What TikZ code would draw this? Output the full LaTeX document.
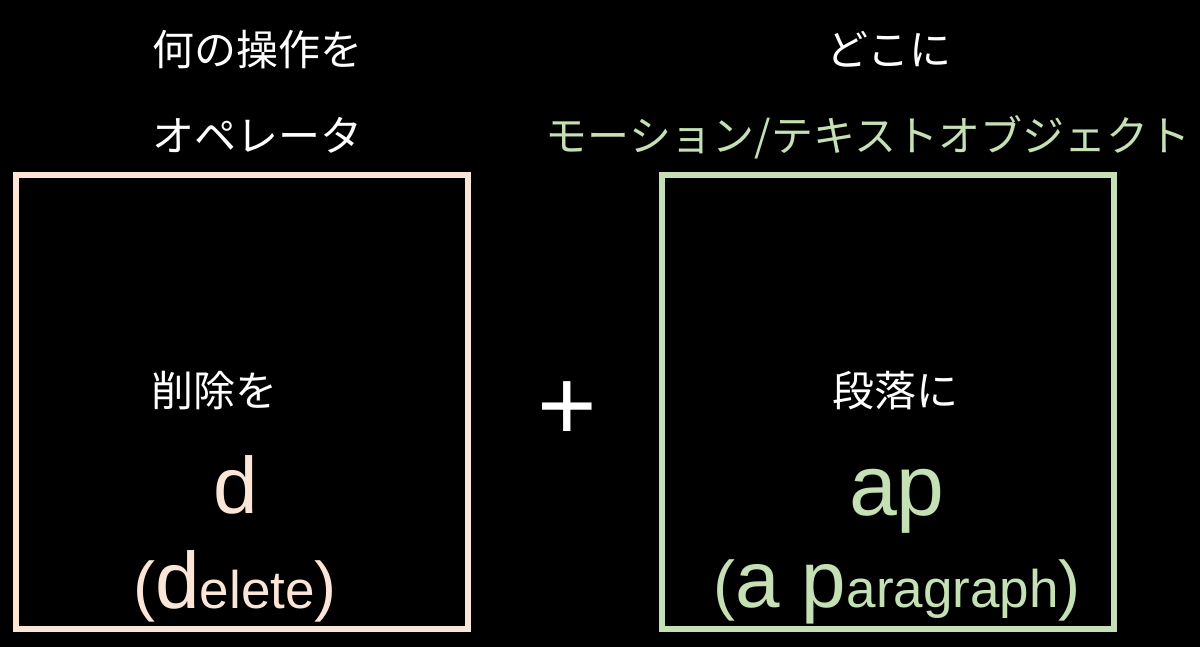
\documentclass[tikz,border=0pt]{standalone}
\usepackage{fontspec}
\setmainfont{Liberation Sans}
\newfontfamily\jpfont{Noto Sans CJK JP}
\definecolor{peach}{HTML}{FBE5D6}
\definecolor{sage}{HTML}{C5E0B4}
\newcommand{\fs}[1]{\fontsize{#1}{#1}\selectfont}
\begin{document}
\begin{tikzpicture}[x=1pt,y=-1pt,
  jp/.style={inner sep=0pt,anchor=base,font=\jpfont\fs{42}},
  lat/.style={inner sep=0pt,anchor=base},
  panel/.style={draw,line width=6pt}]
\useasboundingbox[fill=black] (0,0) rectangle (1200,647);
% headings
\node[jp,text=white] (h1) at (257,66) {何の操作を};
\node[jp,text=white] (h2) at (257,152) {オペレータ};
\node[jp,text=white] (h3) at (889,66) {どこに};
\node[jp,text=sage] (h4) at (868,152) {モーション/テキストオブジェクト};
% boxes
\draw[panel,peach] (16,175) rectangle (468,629);
\draw[panel,sage] (662,175) rectangle (1114,629);
% left contents
\node[jp,text=white] (l1) at (214,406) {削除を};
\node[lat,text=peach,font=\fs{80}] (l2) at (236,513) {d};
\node[lat,text=peach] (l3) at (235,608) {\fs{66}(\fs{80}d\fs{53}elete\fs{66})};
% plus
\node[lat,text=white,font=\fs{102}] (plus) at (567,440) {+};
% right contents
\node[jp,text=white] (r1) at (895,406) {段落に};
\node[lat,text=sage,font=\fs{86}] (r2) at (897,515) {ap};
\node[lat,text=sage] (r3) at (897,607) {\fs{66}(\fs{80}a p\fs{53}aragraph\fs{66})};
\end{tikzpicture}
\end{document}
